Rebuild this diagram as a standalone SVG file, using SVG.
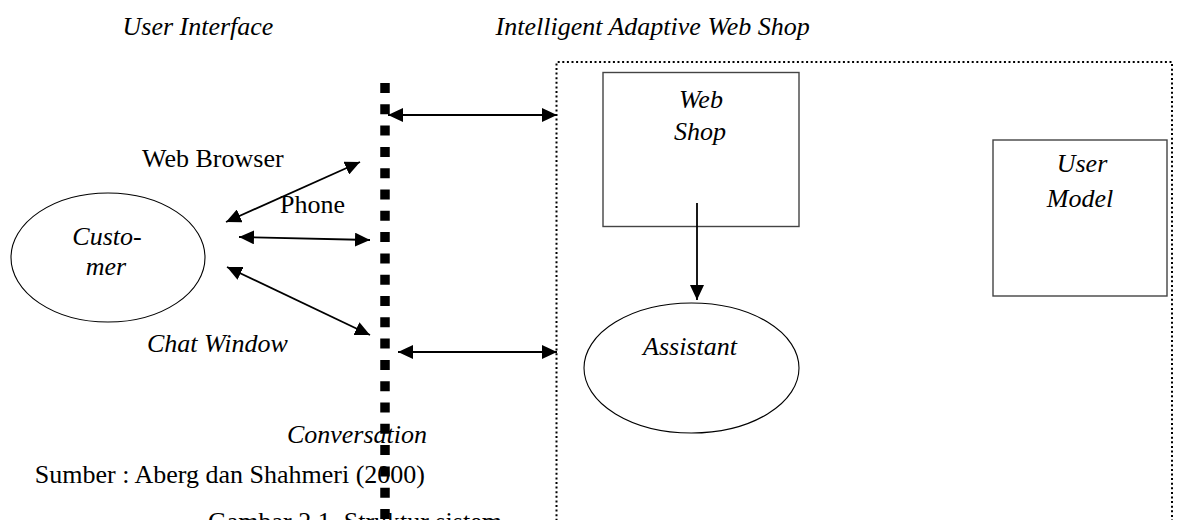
<svg xmlns="http://www.w3.org/2000/svg" width="1181" height="520" viewBox="0 0 1181 520">
  <style>
    .t { font-family: "Liberation Serif", "Times New Roman", serif; font-size: 26px; fill: #000; }
    .i { font-style: italic; }
    .box { fill: #fff; stroke: #444; stroke-width: 1.4; }
    .oval { fill: #fff; stroke: #000; stroke-width: 1.1; }
    .conn { stroke: #000; stroke-width: 1.8; fill: none; }
  </style>
  <defs>
    <marker id="ah" markerUnits="userSpaceOnUse" markerWidth="16" markerHeight="14" refX="15" refY="7" orient="auto-start-reverse">
      <path d="M0,0 L15,7 L0,14 z" fill="#000"/>
    </marker>
  </defs>
  <rect width="1181" height="520" fill="#fff"/>

  <!-- headings -->
  <text class="t i" x="122.5" y="35">User Interface</text>
  <text class="t i" x="495.6" y="35">Intelligent Adaptive Web Shop</text>

  <!-- system boundary -->
  <g id="boundary">
    <path d="M556.5,530 V62 H1172 V530" fill="none" stroke="#000" stroke-width="2" stroke-dasharray="2 2.6"/>
  </g>

  <!-- conversation divider -->
  <g id="divider">
    <line x1="385" y1="83" x2="385" y2="519" stroke="#000" stroke-width="9.5" stroke-dasharray="10 11.3"/>
  </g>

  <g id="customer">
    <ellipse class="oval" cx="108" cy="257.5" rx="97" ry="64.5"/>
    <text class="t i" x="107" y="245" text-anchor="middle">Custo-</text>
    <text class="t i" x="106" y="275" text-anchor="middle">mer</text>
  </g>

  <g id="web-shop">
    <rect class="box" x="603" y="72.5" width="196" height="154"/>
    <text class="t i" x="701" y="108" text-anchor="middle">Web</text>
    <text class="t i" x="700" y="140" text-anchor="middle">Shop</text>
  </g>

  <g id="user-model">
    <rect class="box" x="993" y="140" width="174" height="156"/>
    <text class="t i" x="1082" y="172" text-anchor="middle">User</text>
    <text class="t i" x="1080" y="207" text-anchor="middle">Model</text>
  </g>

  <g id="assistant">
    <ellipse class="oval" cx="691.5" cy="368" rx="107.5" ry="65"/>
    <text class="t i" x="690" y="355" text-anchor="middle">Assistant</text>
  </g>

  <!-- channel labels -->
  <text class="t" x="142" y="167">Web Browser</text>
  <text class="t" x="280" y="213">Phone</text>
  <text class="t i" x="147" y="352">Chat Window</text>
  <text class="t i" x="427" y="443" text-anchor="end">Conversation</text>

  <g id="connectors">
    <line class="conn" x1="226" y1="222" x2="360" y2="162" marker-start="url(#ah)" marker-end="url(#ah)"/>
    <line class="conn" x1="239" y1="237" x2="370" y2="240" marker-start="url(#ah)" marker-end="url(#ah)"/>
    <line class="conn" x1="227" y1="267" x2="370" y2="335" marker-start="url(#ah)" marker-end="url(#ah)"/>
    <line class="conn" x1="388" y1="115" x2="557" y2="115" marker-start="url(#ah)" marker-end="url(#ah)"/>
    <line class="conn" x1="398" y1="352" x2="557" y2="352" marker-start="url(#ah)" marker-end="url(#ah)"/>
    <line class="conn" x1="697" y1="203" x2="697" y2="300" marker-end="url(#ah)"/>
  </g>

  <!-- source and caption -->
  <text class="t" x="425" y="483" text-anchor="end">Sumber : Aberg dan Shahmeri (2000)</text>
  <text class="t" x="208" y="530">Gambar 2.1. Struktur sistem</text>
</svg>
